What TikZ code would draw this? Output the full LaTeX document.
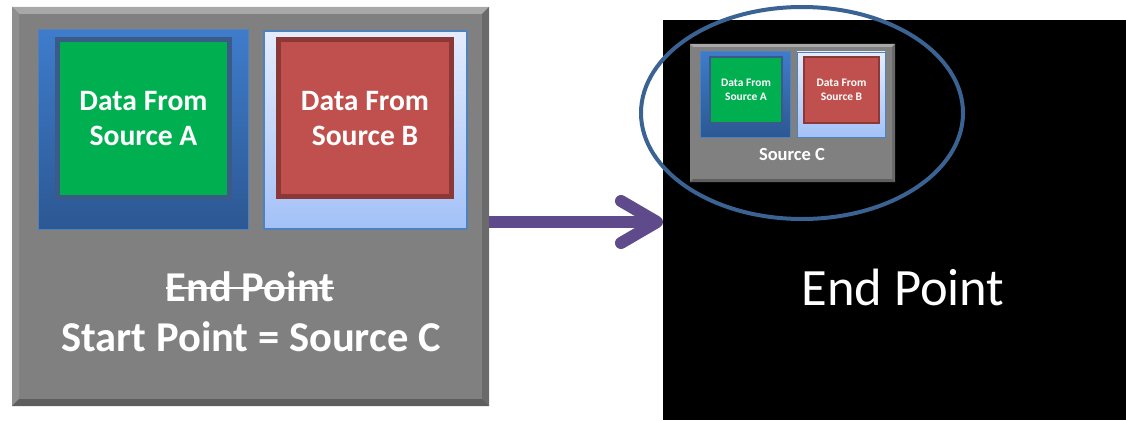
\documentclass[tikz,border=0pt]{standalone}
\usepackage{fontspec}
\setmainfont{Carlito}
\usetikzlibrary{shapes.geometric}
\definecolor{boxgray}{HTML}{808080}
\definecolor{bevtop}{HTML}{A8A8A8}
\definecolor{bevleft}{HTML}{8E8E8E}
\definecolor{bevright}{HTML}{6A6A6A}
\definecolor{bevbot}{HTML}{5E5E5E}
\definecolor{blueA}{HTML}{3E7CCB}
\definecolor{blueAd}{HTML}{2C5893}
\definecolor{frameA}{HTML}{3A5A88}
\definecolor{greenA}{HTML}{00B050}
\definecolor{lightB}{HTML}{E4ECFC}
\definecolor{lightBd}{HTML}{A3C1F7}
\definecolor{borderB}{HTML}{4F81BD}
\definecolor{redB}{HTML}{C0504D}
\definecolor{redBd}{HTML}{8C3836}
\definecolor{arrowc}{HTML}{5F4B8B}
\definecolor{ellc}{HTML}{3A6393}
\tikzset{
  plain/.style={rectangle, inner sep=0pt, outer sep=0pt},
  graybox/.style={plain, fill=boxgray},
  bluebox/.style={plain, top color=blueA, bottom color=blueAd, draw=borderB, line width=1pt},
  lightbox/.style={plain, top color=lightB, bottom color=lightBd, draw=borderB, line width=1.5pt},
  greenbox/.style={plain, fill=greenA, draw=frameA},
  redbox/.style={plain, fill=redB, draw=redBd},
  wtext/.style={text=white, align=center, inner sep=0pt, font=\bfseries}
}
\begin{document}
\begin{tikzpicture}[x=1pt,y=-1pt]
\useasboundingbox[fill=white] (0,0) rectangle (1126,420);
% ---- left big box
\node[graybox, minimum width=477pt, minimum height=399pt] (big) at (250.5,206.5) {};
\fill[bevtop] (big.north west) -- (big.north east) -- ([shift={(-7,7)}]big.north east) -- ([shift={(7,7)}]big.north west) -- cycle;
\fill[bevleft] (big.north west) -- ([shift={(7,7)}]big.north west) -- ([shift={(7,-7)}]big.south west) -- (big.south west) -- cycle;
\fill[bevright] (big.north east) -- ([shift={(-7,7)}]big.north east) -- ([shift={(-7,-7)}]big.south east) -- (big.south east) -- cycle;
\fill[bevbot] (big.south west) -- ([shift={(7,-7)}]big.south west) -- ([shift={(-7,-7)}]big.south east) -- (big.south east) -- cycle;
\node[bluebox, minimum width=210pt, minimum height=199pt] (boxA) at (143,129.5) {};
\node[greenbox, line width=5pt, minimum width=172pt, minimum height=158pt] (greenA) at (143.5,118.5) {};
\node[lightbox, minimum width=203pt, minimum height=198pt] (boxB) at (365.5,130) {};
\node[redbox, line width=5pt, minimum width=173pt, minimum height=157pt] (redB) at (365,118) {};
\node[wtext, font=\bfseries\fontsize{29.6}{35}\selectfont] (txtA) at (143.5,119) {Data From\\Source A};
\node[wtext, font=\bfseries\fontsize{29.6}{35}\selectfont] (txtB) at (365,119) {Data From\\Source B};
\node[wtext, font=\bfseries\fontsize{42.5}{48}\selectfont] (endold) at (250,287) {End Point};
\draw[white, line width=2.5pt] ([yshift=-1pt]endold.west) -- ([yshift=-1pt]endold.east);
\node[wtext, font=\bfseries\fontsize{42.5}{48}\selectfont] (start) at (251,337) {Start Point = Source C};
% ---- right black box
\node[plain, fill=black, minimum width=463pt, minimum height=400pt] (black) at (894.5,220) {};
\node[text=white, inner sep=0pt, font=\fontsize{52.5}{60}\selectfont] (endpt) at (903,287) {End Point};
% ---- small copy
\node[graybox, minimum width=205pt, minimum height=138pt] (small) at (792.5,113) {};
\fill[bevtop] (small.north west) -- (small.north east) -- ([shift={(-3,3)}]small.north east) -- ([shift={(3,3)}]small.north west) -- cycle;
\fill[bevright] (small.north east) -- ([shift={(-3,3)}]small.north east) -- ([shift={(-3,-3)}]small.south east) -- (small.south east) -- cycle;
\fill[bevbot] (small.south west) -- ([shift={(3,-3)}]small.south west) -- ([shift={(-3,-3)}]small.south east) -- (small.south east) -- cycle;
\node[bluebox, minimum width=90pt, minimum height=85pt] (sboxA) at (745,94.5) {};
\node[greenbox, line width=2pt, minimum width=72pt, minimum height=66pt] (sgreenA) at (746,90) {};
\node[lightbox, line width=0.8pt, minimum width=88pt, minimum height=85pt] (sboxB) at (841,94.5) {};
\node[redbox, line width=2pt, minimum width=75pt, minimum height=66pt] (sredB) at (841.5,90) {};
\node[wtext, font=\bfseries\fontsize{11.5}{14}\selectfont] (stxtA) at (746,90) {Data From\\Source A};
\node[wtext, font=\bfseries\fontsize{11.5}{14}\selectfont] (stxtB) at (841.5,90) {Data From\\Source B};
\node[wtext, font=\bfseries\fontsize{18.5}{22}\selectfont] (ssrcC) at (792,155) {Source C};
% ---- ellipse highlight
\node[ellipse, draw=ellc, line width=4pt, minimum width=322pt, minimum height=212pt, inner sep=0pt] (ell) at (802,113) {};
% ---- arrow
\coordinate (tip) at (657,222);
\coordinate (armT) at (621,201);
\coordinate (armB) at (621,243);
\draw[arrowc, line width=12pt] (big.east |- tip) -- (tip);
\draw[arrowc, line width=12pt, line cap=round, line join=round] (armT) -- (tip) -- (armB);
\end{tikzpicture}
\end{document}
